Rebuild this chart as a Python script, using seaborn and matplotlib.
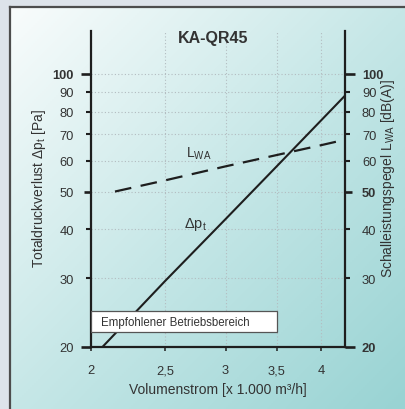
import numpy as np
import pandas as pd
import matplotlib
matplotlib.use("Agg")
import matplotlib.pyplot as plt
from matplotlib.colors import LinearSegmentedColormap
from matplotlib.patches import Rectangle
from matplotlib.ticker import NullLocator
import seaborn as sns

title = "KA-QR45"
flow_dp = [2.07, 2.5, 3.0, 3.5, 4.0, 4.3]
dp = [20, 29.5, 42.5, 58, 76, 88]
flow_lwa = [2.15, 2.5, 3.0, 3.5, 4.0, 4.22]
lwa = [50, 53.4, 58, 62, 65.7, 67.3]
x_ticks = [2, 2.5, 3, 3.5, 4]
x_labels = ["2", "2,5", "3", "3,5", "4"]
y_ticks = [20, 30, 40, 50, 60, 70, 80, 90, 100]
range_label = "Empfohlener Betriebsbereich"
range_flow = (2.0, 3.5)
range_level = (21.8, 24.7)

sns.set_theme(style="white")
plt.rcParams["font.family"] = ["Liberation Sans", "DejaVu Sans"]
txt = "#333333"
ink = "#1e1e1e"

W, H = 406, 410
fig = plt.figure(figsize=(W / 100, H / 100), dpi=100, facecolor="#dde3ea")

# gradient panel behind everything
bg = fig.add_axes([10 / W, 0, 396 / W, 402 / H])
u, v = np.meshgrid(np.linspace(0, 1, 200), np.linspace(0, 1, 200))
grad = (u + v) / 2
cmap = LinearSegmentedColormap.from_list("panel", ["#f9fcfc", "#c6e7e7", "#98d3d3"])
bg.imshow(grad, cmap=cmap, aspect="auto", extent=[0, 1, 1, 0])
bg.set_xticks([])
bg.set_yticks([])
for s in ["right", "bottom"]:
    bg.spines[s].set_visible(False)
for s in ["left", "top"]:
    bg.spines[s].set_color("#4d4d4d")
    bg.spines[s].set_linewidth(1.6)

ax = fig.add_axes([91 / W, 62 / H, 254 / W, 316 / H], zorder=2)
ax.set_facecolor("none")
ax.set_xscale("log")
ax.set_yscale("log")
ax.set_xlim(2, 4.30)
ax.set_ylim(20, 128.8)

sns.lineplot(x=flow_dp, y=dp, ax=ax, color=ink, lw=1.5, zorder=3)

ax.set_xticks(x_ticks, x_labels)
ax.set_yticks(y_ticks, [str(t) for t in y_ticks])
ax.xaxis.set_minor_locator(NullLocator())
ax.yaxis.set_minor_locator(NullLocator())
ax.grid(True, which="major", color="#b3bcc0", linestyle=(0, (1, 2)), lw=0.8)

ax2 = ax.twinx()
ax2.set_yscale("log")
ax2.set_ylim(20, 128.8)
sns.lineplot(x=flow_lwa, y=lwa, ax=ax2, color=ink, lw=1.6)
ax2.lines[-1].set_dashes([7.5, 4.3])
ax2.set_yticks(y_ticks, [str(t) for t in y_ticks])
ax2.yaxis.set_minor_locator(NullLocator())
ax2.grid(False)
for s in ax2.spines.values():
    s.set_visible(False)

ax.spines["top"].set_visible(False)
for s in ["left", "right", "bottom"]:
    ax.spines[s].set_color(ink)
    ax.spines[s].set_linewidth(1.6)

ax.tick_params(axis="x", direction="out", length=3, width=1.1, color=ink,
               pad=9.5, labelsize=9.3, labelcolor=txt, bottom=True)
ax.tick_params(axis="y", direction="out", length=3.6, width=1.5, color=ink,
               pad=8.6, labelsize=9.3, labelcolor=txt, left=True, right=False)
ax2.tick_params(axis="y", direction="out", length=3.6, width=1.5, color=ink,
                pad=8.6, labelsize=9.3, labelcolor=txt, right=True)

# longer ticks for 20 / 50 / 100
long_ticks = {20: 7.2, 50: 5.0, 100: 7.2}
for t, tick in zip(y_ticks, ax.yaxis.get_major_ticks()):
    if t in long_ticks:
        tick.tick1line.set_markersize(long_ticks[t])
        tick.tick1line.set_markeredgewidth(1.9)
    if t == 100:
        tick.label1.set_fontweight("bold")
for t, tick in zip(y_ticks, ax2.yaxis.get_major_ticks()):
    if t in long_ticks:
        tick.tick2line.set_markersize(long_ticks[t])
        tick.tick2line.set_markeredgewidth(1.9)
        tick.label2.set_fontweight("bold")

ax.set_xlabel("Volumenstrom [x 1.000 m³/h]", fontsize=10, color=txt, va="center")
ax.xaxis.set_label_coords(0.5, -0.133)
ax.set_ylabel("Totaldruckverlust Δp$_\\mathregular{t}$ [Pa]", fontsize=10, color=txt, va="center")
ax.yaxis.set_label_coords(-0.205, 0.506)
ax2.set_ylabel("Schalleistungspegel L$_\\mathregular{WA}$ [dB(A)]", fontsize=10, color=txt,
               va="center", rotation=90)
ax2.yaxis.set_label_coords(1.17, 0.535)

ax.text(2.66, 61.3, "L$_\\mathregular{WA}$", fontsize=10, color=txt, ha="left", va="baseline")
ax.text(2.65, 40.6, "Δp$_\\mathregular{t}$", fontsize=10.5, color=txt, ha="left", va="baseline")

ax.add_patch(Rectangle((range_flow[0], range_level[0]), range_flow[1] - range_flow[0],
                       range_level[1] - range_level[0], facecolor="white",
                       edgecolor="#555555", lw=0.9, zorder=5))
ax.text(2.06, (range_level[0] * range_level[1]) ** 0.5, range_label, fontsize=8.3,
        color=txt, ha="left", va="center", zorder=6)

fig.text(213 / W, 1 - 38 / H, title, fontsize=11.5, fontweight="bold", color=txt,
         ha="center", va="center")

fig.savefig("out.png", dpi=100, facecolor=fig.get_facecolor())
